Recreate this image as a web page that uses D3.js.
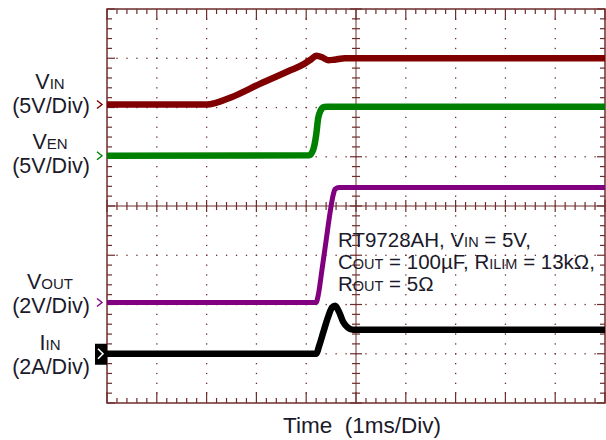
<!DOCTYPE html>
<html>
<head>
<meta charset="utf-8">
<script src="https://cdn.jsdelivr.net/npm/d3@7"></script>
<style>
  html, body { margin: 0; padding: 0; background: #fff; }
  svg text { font-family: "Liberation Sans", Arial, sans-serif; fill: #1a1a2a; }
</style>
</head>
<body>
<div id="scope"></div>
<script>
// time axis: 1ms/div, 10 divisions
var nr_xdiv = 10;
var nr_ydiv = 8;
var nr_minor = 5;

// VIN (5V/Div), time in ms, value in V
var vin_t = [0, 2.0, 2.2, 2.5, 3.07, 3.67, 3.95, 4.1, 4.2, 4.32, 4.44, 4.56, 4.78, 10];
var vin_v = [0, 0, 0.2, 0.75, 2.1, 3.45, 4.1, 4.6, 4.95, 4.8, 4.5, 4.55, 4.7, 4.7];

// VEN (5V/Div)
var ven_t = [0, 4.06, 4.14, 4.2, 4.24, 4.29, 4.36, 4.42, 10];
var ven_v = [0, 0.05, 0.6, 2.1, 3.8, 4.6, 4.95, 4.97, 4.97];

// VOUT (2V/Div)
var vout_t = [0, 4.2, 4.24, 4.32, 4.4, 4.48, 4.54, 4.58, 4.66, 10];
var vout_v = [0, 0, 0.28, 1.38, 2.52, 3.66, 4.35, 4.6, 4.67, 4.67];

// IIN (2A/Div)
var iin_t = [0, 4.2, 4.26, 4.34, 4.44, 4.52, 4.58, 4.66, 4.74, 4.84, 4.94, 10];
var iin_v = [0, 0, 0.32, 0.85, 1.5, 1.88, 1.95, 1.7, 1.3, 1.06, 0.97, 0.97];

// channel setup: volts (or amps) per division and ground marker position in divisions
var channel_names = ["VIN", "VEN", "VOUT", "IIN"];
var channel_scale = [5, 5, 2, 2];
var channel_offset = [6.06, 5.02, 2.04, 1.0];
var channel_color = ["#800000", "#008000", "#800080", "#000000"];

var options = {
    width: 606,
    height: 440,
    left: 107,
    right: 605,
    top: 9,
    bottom: 403
};

var grid_color = "#6e2c2c";

var svg = d3.select("#scope")
    .append("svg")
    .attr("width", options.width)
    .attr("height", options.height);

var xScale = d3.scaleLinear()
    .domain([0, nr_xdiv])
    .range([options.left, options.right]);

var yScale = d3.scaleLinear()
    .domain([0, nr_ydiv])
    .range([options.bottom, options.top]);

var xMinor = d3.range(0, nr_xdiv * nr_minor + 1).map(function(i) { return i / nr_minor; });
var yMinor = d3.range(0, nr_ydiv * nr_minor + 1).map(function(i) { return i / nr_minor; });

/*
    Grid: dotted lines at each division, dots at each minor step
*/
var grid = svg.append("g").attr("class", "grid");

d3.range(1, nr_xdiv).forEach(function(d) {
    if (d == nr_xdiv / 2) return;
    grid.selectAll(null)
        .data(yMinor.slice(1, -1))
        .enter().append("rect")
        .attr("x", xScale(d) - 0.6)
        .attr("y", function(v) { return yScale(v) - 0.6; })
        .attr("width", 1.3)
        .attr("height", 1.3)
        .attr("fill", grid_color);
});

d3.range(1, nr_ydiv).forEach(function(d) {
    if (d == nr_ydiv / 2) return;
    grid.selectAll(null)
        .data(xMinor.slice(1, -1))
        .enter().append("rect")
        .attr("x", function(v) { return xScale(v) - 0.6; })
        .attr("y", yScale(d) - 0.6)
        .attr("width", 1.3)
        .attr("height", 1.3)
        .attr("fill", grid_color);
});

// centre cross lines
grid.append("line")
    .attr("x1", xScale(nr_xdiv / 2)).attr("x2", xScale(nr_xdiv / 2))
    .attr("y1", options.top).attr("y2", options.bottom)
    .attr("stroke", grid_color).attr("stroke-width", 1);
grid.append("line")
    .attr("x1", options.left).attr("x2", options.right)
    .attr("y1", yScale(nr_ydiv / 2)).attr("y2", yScale(nr_ydiv / 2))
    .attr("stroke", grid_color).attr("stroke-width", 1);

// ticks on the centre lines
grid.selectAll(null)
    .data(yMinor)
    .enter().append("line")
    .attr("x1", function(v) { return xScale(nr_xdiv / 2) - (v % 1 == 0 ? 6 : 4); })
    .attr("x2", function(v) { return xScale(nr_xdiv / 2) + (v % 1 == 0 ? 6 : 4); })
    .attr("y1", function(v) { return yScale(v); })
    .attr("y2", function(v) { return yScale(v); })
    .attr("stroke", grid_color).attr("stroke-width", 1.2);
grid.selectAll(null)
    .data(xMinor)
    .enter().append("line")
    .attr("y1", function(v) { return yScale(nr_ydiv / 2) - (v % 1 == 0 ? 6 : 4); })
    .attr("y2", function(v) { return yScale(nr_ydiv / 2) + (v % 1 == 0 ? 6 : 4); })
    .attr("x1", function(v) { return xScale(v); })
    .attr("x2", function(v) { return xScale(v); })
    .attr("stroke", grid_color).attr("stroke-width", 1.2);

/*
    Frame with inward ticks
*/
var frame = svg.append("g").attr("class", "frame");
frame.append("rect")
    .attr("x", options.left).attr("y", options.top)
    .attr("width", options.right - options.left)
    .attr("height", options.bottom - options.top)
    .attr("fill", "none")
    .attr("stroke", grid_color).attr("stroke-width", 1.5);

// top and bottom
frame.selectAll(null)
    .data(xMinor)
    .enter().append("line")
    .attr("x1", function(v) { return xScale(v); })
    .attr("x2", function(v) { return xScale(v); })
    .attr("y1", options.top)
    .attr("y2", function(v) { return options.top + (v % 1 == 0 ? 11 : 5); })
    .attr("stroke", grid_color).attr("stroke-width", 1.2);
frame.selectAll(null)
    .data(xMinor)
    .enter().append("line")
    .attr("x1", function(v) { return xScale(v); })
    .attr("x2", function(v) { return xScale(v); })
    .attr("y1", options.bottom)
    .attr("y2", function(v) { return options.bottom - (v % 1 == 0 ? 11 : 5); })
    .attr("stroke", grid_color).attr("stroke-width", 1.2);

// left and right
frame.selectAll(null)
    .data(yMinor)
    .enter().append("line")
    .attr("y1", function(v) { return yScale(v); })
    .attr("y2", function(v) { return yScale(v); })
    .attr("x1", options.left)
    .attr("x2", function(v) { return options.left + (v % 1 == 0 ? 8 : 5); })
    .attr("stroke", grid_color).attr("stroke-width", 1.2);
frame.selectAll(null)
    .data(yMinor)
    .enter().append("line")
    .attr("y1", function(v) { return yScale(v); })
    .attr("y2", function(v) { return yScale(v); })
    .attr("x1", options.right)
    .attr("x2", function(v) { return options.right - (v % 1 == 0 ? 8 : 5); })
    .attr("stroke", grid_color).attr("stroke-width", 1.2);

/*
    Traces
*/
var traces = [
    {t: vin_t, v: vin_v},
    {t: ven_t, v: ven_v},
    {t: vout_t, v: vout_v},
    {t: iin_t, v: iin_v}
];

var traceGroup = svg.append("g").attr("class", "traces");
traces.forEach(function(tr, k) {
    var pts = tr.t.map(function(t, i) { return [t, tr.v[i]]; });
    var line = d3.line()
        .curve(d3.curveMonotoneX)
        .x(function(d) { return xScale(d[0]); })
        .y(function(d) { return yScale(channel_offset[k] + d[1] / channel_scale[k]); });
    traceGroup.append("path")
        .attr("d", line(pts))
        .attr("fill", "none")
        .attr("stroke", channel_color[k])
        .attr("stroke-width", k == 2 ? 5 : 6.5)
        .attr("stroke-linejoin", "round");
});

/*
    Ground markers
*/
var markers = svg.append("g").attr("class", "markers");
channel_offset.forEach(function(off, k) {
    var y = yScale(off);
    if (k == 3) {
        markers.append("rect")
            .attr("x", options.left - 12).attr("y", y - 10)
            .attr("width", 12).attr("height", 21)
            .attr("fill", "#000");
        markers.append("path")
            .attr("d", "M" + (options.left - 9) + "," + (y - 5) + "L" + (options.left - 4) + "," + y + "L" + (options.left - 9) + "," + (y + 5))
            .attr("fill", "none").attr("stroke", "#fff").attr("stroke-width", 1.6);
    } else {
        markers.append("path")
            .attr("d", "M" + (options.left - 10) + "," + (y - 4) + "L" + (options.left - 5) + "," + y + "L" + (options.left - 10) + "," + (y + 4))
            .attr("fill", "none").attr("stroke", channel_color[k]).attr("stroke-width", 1.4);
    }
});

/*
    Channel labels: name line and scale line in one text block
*/
var label_main = ["V", "V", "V", "I"];
var label_sub = ["IN", "EN", "OUT", "IN"];
var label_div = ["(5V/Div)", "(5V/Div)", "(2V/Div)", "(2A/Div)"];
var label_y = [89, 149, 289, 350];

var labels = svg.append("g").attr("class", "labels");
label_main.forEach(function(m, k) {
    var t = labels.append("text")
        .attr("y", label_y[k])
        .attr("text-anchor", "middle")
        .attr("font-size", 21.5);
    t.append("tspan").attr("x", 50).text(m);
    t.append("tspan").attr("font-size", 15).text(label_sub[k]);
    t.append("tspan").attr("x", 51).attr("dy", 24).text(label_div[k]);
});

/*
    Annotation
*/
var note = svg.append("text")
    .attr("class", "note")
    .attr("y", 247)
    .attr("font-size", 20.5);
note.append("tspan").attr("x", 338).text("RT9728AH, V");
note.append("tspan").attr("font-size", 14.5).text("IN");
note.append("tspan").text(" = 5V,");
note.append("tspan").attr("x", 338).attr("dy", 22).text("C");
note.append("tspan").attr("font-size", 14.5).text("OUT");
note.append("tspan").text(" = 100\u00b5F, R");
note.append("tspan").attr("font-size", 14.5).text("ILIM");
note.append("tspan").text(" = 13k\u03a9,");
note.append("tspan").attr("x", 338).attr("dy", 22).text("R");
note.append("tspan").attr("font-size", 14.5).text("OUT");
note.append("tspan").text(" = 5\u03a9");

// time axis title
svg.append("text")
    .attr("x", 362).attr("y", 433)
    .attr("text-anchor", "middle")
    .attr("font-size", 22.5)
    .style("white-space", "pre")
    .text("Time  (1ms/Div)");
</script>
</body>
</html>
